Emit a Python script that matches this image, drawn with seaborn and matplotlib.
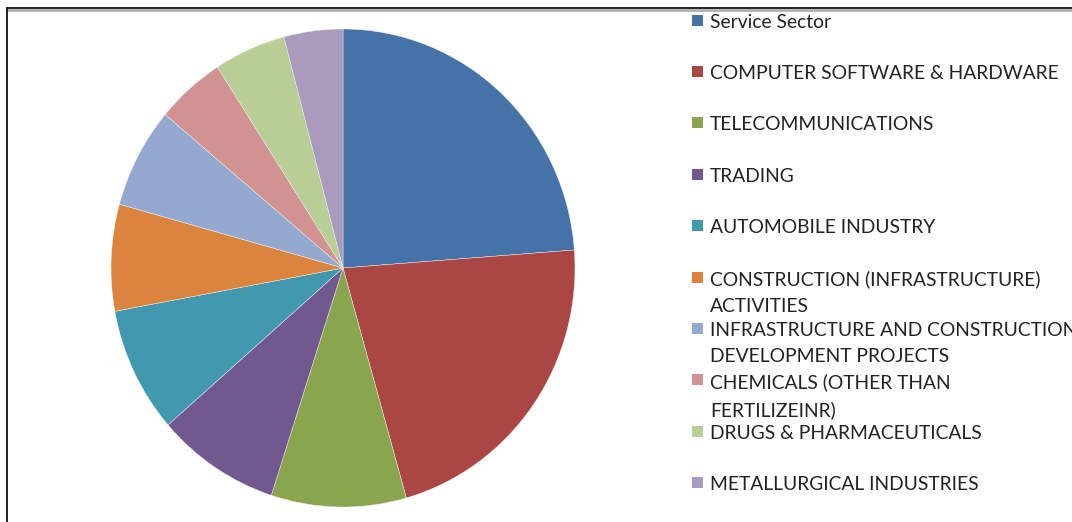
import matplotlib
matplotlib.use("Agg")
import matplotlib.pyplot as plt
import seaborn as sns
from matplotlib.patches import Rectangle
from matplotlib.lines import Line2D

sns.set_theme(style="white")
plt.rcParams['font.family'] = ['Lato', 'DejaVu Sans']

categories = [
    "Service Sector",
    "COMPUTER SOFTWARE & HARDWARE",
    "TELECOMMUNICATIONS",
    "TRADING",
    "AUTOMOBILE INDUSTRY",
    "CONSTRUCTION (INFRASTRUCTURE)\nACTIVITIES",
    "INFRASTRUCTURE AND CONSTRUCTION\nDEVELOPMENT PROJECTS",
    "CHEMICALS (OTHER THAN\nFERTILIZEINR)",
    "DRUGS & PHARMACEUTICALS",
    "METALLURGICAL INDUSTRIES",
]
values = [23.8, 21.8, 9.4, 8.6, 8.5, 7.2, 6.8, 4.8, 5.0, 4.1]
colors = ["#4572A7", "#AA4643", "#89A54E", "#71588F", "#4198AF",
          "#DB843D", "#93A9CF", "#D19392", "#B9CD96", "#A99BBD"]

W, H = 1072, 522
fig = plt.figure(figsize=(W / 100, H / 100), dpi=100)
fig.patch.set_facecolor("white")

# pie axes: centre (343,268) px, radii 232 x 239 px
cx, cy, rx, ry = 343, 268, 232, 239
ax = fig.add_axes([(cx - rx) / W, 1 - (cy + ry) / H, 2 * rx / W, 2 * ry / H])
ax.pie(values, colors=colors, startangle=90, counterclock=False,
       wedgeprops=dict(linewidth=0.3, edgecolor="#f4f4f4"))
ax.set_aspect("auto")
ax.set_xlim(-1, 1)
ax.set_ylim(-1, 1)
ax.axis("off")

# frame lines (chart area border, cropped)
fig.add_artist(Line2D([7 / W, 1], [1 - 9.5 / H, 1 - 9.5 / H], color="#b0b0b0", lw=2.0))
fig.add_artist(Line2D([7 / W, 1], [1 - 8 / H, 1 - 8 / H], color="#111111", lw=1.3))
fig.add_artist(Line2D([7 / W, 7 / W], [0, 1 - 8 / H], color="#111111", lw=1.3))

# legend
y0, dy = 20, 51.4
for i, (lab, col) in enumerate(zip(categories, colors)):
    yc = y0 + i * dy
    fig.add_artist(Rectangle((692 / W, 1 - (yc + 5.5) / H), 11 / W, 11 / H,
                             facecolor=col, edgecolor="none"))
    fig.text(710 / W, 1 - (yc - 6.5) / H, lab, ha="left", va="top",
             fontsize=13.9, color="#222222", linespacing=1.68)

fig.savefig("out.png", dpi=100, facecolor="white")
